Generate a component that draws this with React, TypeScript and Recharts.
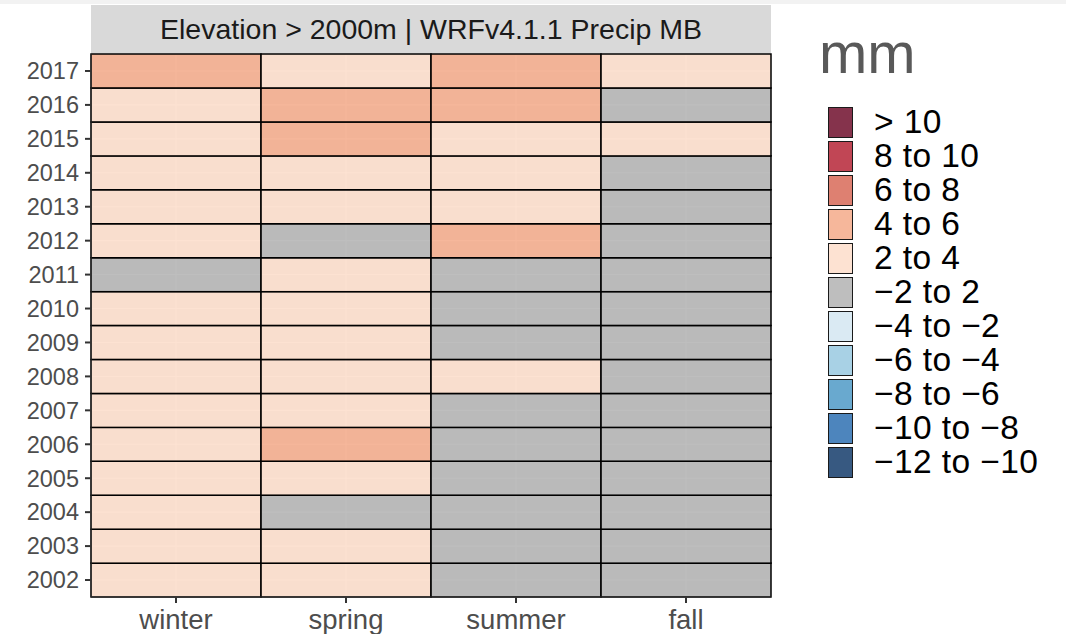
import React from "react";
import { BarChart, Bar, Cell, XAxis, YAxis, CartesianGrid } from "recharts";

const years = ["2002", "2003", "2004", "2005", "2006", "2007", "2008", "2009", "2010", "2011", "2012", "2013", "2014", "2015", "2016", "2017"];
const seasons = ["winter", "spring", "summer", "fall"];

// bin for each year (2002 -> 2017)
const winterBins = ["2 to 4", "2 to 4", "2 to 4", "2 to 4", "2 to 4", "2 to 4", "2 to 4", "2 to 4", "2 to 4", "−2 to 2", "2 to 4", "2 to 4", "2 to 4", "2 to 4", "2 to 4", "4 to 6"];
const springBins = ["2 to 4", "2 to 4", "−2 to 2", "2 to 4", "4 to 6", "2 to 4", "2 to 4", "2 to 4", "2 to 4", "2 to 4", "−2 to 2", "2 to 4", "2 to 4", "4 to 6", "4 to 6", "2 to 4"];
const summerBins = ["−2 to 2", "−2 to 2", "−2 to 2", "−2 to 2", "−2 to 2", "−2 to 2", "2 to 4", "−2 to 2", "−2 to 2", "−2 to 2", "4 to 6", "2 to 4", "2 to 4", "2 to 4", "4 to 6", "4 to 6"];
const fallBins = ["−2 to 2", "−2 to 2", "−2 to 2", "−2 to 2", "−2 to 2", "−2 to 2", "−2 to 2", "−2 to 2", "−2 to 2", "−2 to 2", "−2 to 2", "−2 to 2", "−2 to 2", "2 to 4", "−2 to 2", "2 to 4"];

const binLabels = ["> 10", "8 to 10", "6 to 8", "4 to 6", "2 to 4", "−2 to 2", "−4 to −2", "−6 to −4", "−8 to −6", "−10 to −8", "−12 to −10"];
const binColors = ["#67001F", "#B2182B", "#D6604D", "#F4A582", "#FDDBC7", "#aeaeae", "#D1E5F0", "#92C5DE", "#4393C3", "#2166AC", "#053061"];

const seasonBins: Record<string, string[]> = { winter: winterBins, spring: springBins, summer: summerBins, fall: fallBins };

const data = years.map((year) => ({ year, winter: 1, spring: 1, summer: 1, fall: 1 }));

const colorOf = (bin: string) => binColors[binLabels.indexOf(bin)];

const FONT = '"Liberation Sans", Arial, sans-serif';

export default function App() {
    return (
        <div style={{ position: "absolute", left: 0, top: 0, width: 1066, height: 634, background: "#fff", fontFamily: FONT }}>
            <div style={{ position: "absolute", left: 0, top: 0, width: 1066, height: 4, background: "#f2f2f2" }} />
            <div style={{
                position: "absolute", left: 91, top: 5, width: 680, height: 49, background: "#d9d9d9",
                display: "flex", alignItems: "center", justifyContent: "center", fontSize: 28.5, color: "#1a1a1a"
            }}>
                Elevation &gt; 2000m | WRFv4.1.1 Precip MB
            </div>
            <BarChart width={1066} height={634} data={data} layout="vertical" barCategoryGap={0}
                margin={{ top: 54, right: 295, bottom: 0, left: 0 }}>
                <CartesianGrid fill="#ebebeb" stroke="#ffffff" strokeWidth={1} />
                <XAxis type="number" domain={[0, 4]} ticks={[0.5, 1.5, 2.5, 3.5]} height={37}
                    tickFormatter={(v) => seasons[Math.floor(v)]}
                    tick={{ fill: "#4d4d4d", fontSize: 27.5, fontFamily: FONT }}
                    tickSize={6} tickMargin={6}
                    tickLine={{ stroke: "#333", strokeWidth: 2 }}
                    axisLine={{ stroke: "#333", strokeWidth: 1 }} />
                <YAxis type="category" dataKey="year" reversed width={91}
                    tick={{ fill: "#4d4d4d", fontSize: 23.5, fontFamily: FONT }}
                    tickSize={6} tickMargin={6}
                    tickLine={{ stroke: "#333", strokeWidth: 2 }}
                    axisLine={{ stroke: "#333", strokeWidth: 1 }} />
                {seasons.map((s) => (
                    <Bar key={s} dataKey={s} stackId="a" isAnimationActive={false} stroke="#000" strokeWidth={1.5}>
                        {seasonBins[s].map((bin, i) => (
                            <Cell key={i} fill={colorOf(bin)} fillOpacity={0.8} />
                        ))}
                    </Bar>
                ))}
            </BarChart>
            <div style={{ position: "absolute", left: 819, top: 24, fontSize: 58, lineHeight: 1, color: "#595959" }}>mm</div>
            <div style={{ position: "absolute", left: 828, top: 105 }}>
                {binLabels.map((lab, i) => (
                    <div key={lab} style={{ display: "flex", alignItems: "center", height: 34 }}>
                        <div style={{ width: 23, height: 29, border: "1.5px solid #1a1a1a", position: "relative", background: "#fff" }}>
                            <div style={{ position: "absolute", inset: 0, background: binColors[i], opacity: 0.8 }} />
                        </div>
                        <div style={{ marginLeft: 21, fontSize: 33.5, lineHeight: 1, letterSpacing: 0.4, color: "#000", whiteSpace: "nowrap" }}>{lab}</div>
                    </div>
                ))}
            </div>
        </div>
    );
}
